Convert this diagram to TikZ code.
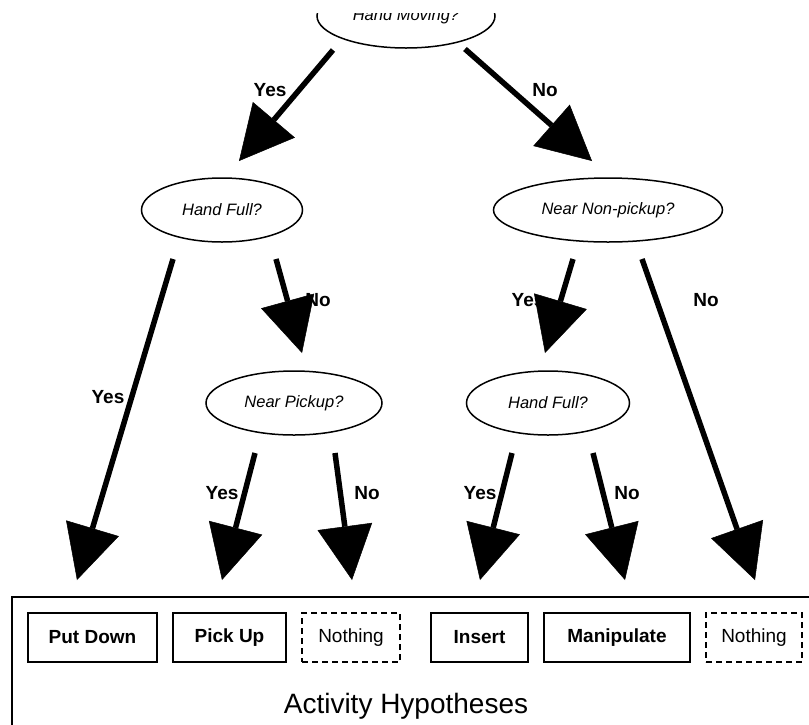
\documentclass[tikz,border=0pt]{standalone}
\usepackage{fontspec}
\setmainfont{Liberation Sans}
\usetikzlibrary{shapes.geometric,arrows.meta}

\tikzset{
	question/.style={draw, ellipse, line width=1.5pt, inner sep=0pt, minimum height=64pt, font=\fontsize{16.5}{18}\selectfont\itshape},
	bigarrow/.style={line width=5.5pt, -{Triangle[length=54pt, width=55pt, line width=0.5pt]}},
	answer/.style={font=\fontsize{19}{21}\selectfont\bfseries},
	activity/.style={draw, line width=1.7pt, inner sep=0pt, minimum height=49pt, font=\fontsize{19}{21}\selectfont\bfseries},
	noactivity/.style={activity, dash pattern=on 6pt off 4pt, font=\fontsize{19}{21}\selectfont}
}

\begin{document}
\begin{tikzpicture}[x=1pt, y=-1pt]
	
	\useasboundingbox (0,0) rectangle (809,724);
	\clip (0,13) rectangle (809,724);
	
	% questions
	\node[question, minimum width=178pt] (moving) at (406,16) {Hand Moving?};
	\node[question, minimum width=161pt] (full) at (222,210) {Hand Full?};
	\node[question, minimum width=229pt] (nonpickup) at (608,210) {Near Non-pickup?};
	\node[question, minimum width=176pt] (pickup) at (294,403) {Near Pickup?};
	\node[question, minimum width=163pt] (fulltwo) at (548,403) {Hand Full?};
	
	% hypotheses
	\draw[line width=1.7pt] (12,597) coordinate (h1) rectangle (840,760) coordinate (h2);
	\node[activity, minimum width=129pt] (putdown) at (92.5,637.5) {Put Down};
	\node[activity, minimum width=113pt] (pickupact) at (229.5,637.5) {Pick Up};
	\node[noactivity, minimum width=98pt] (nothingone) at (351,637.5) {Nothing};
	\node[activity, minimum width=97pt] (insert) at (479.5,637.5) {Insert};
	\node[activity, minimum width=146pt] (manipulate) at (617,637.5) {Manipulate};
	\node[noactivity, minimum width=96pt] (nothingtwo) at (754,637.5) {Nothing};
	\node[font=\fontsize{28}{30}\selectfont] (title) at (406,706) {Activity Hypotheses};
	
	% arrow ends
	\coordinate (s1) at (333,50);   \coordinate (t1) at (239,161);
	\coordinate (s2) at (465,49);   \coordinate (t2) at (592,161);
	\coordinate (s3) at (173,259);  \coordinate (t3) at (77,580);
	\coordinate (s4) at (276,259);  \coordinate (t4) at (302,353);
	\coordinate (s5) at (573,259);  \coordinate (t5) at (545,353);
	\coordinate (s6) at (642,259);  \coordinate (t6) at (755,580);
	\coordinate (s7) at (255,453);  \coordinate (t7) at (222,580);
	\coordinate (s8) at (335,453);  \coordinate (t8) at (352,580);
	\coordinate (s9) at (512,453);  \coordinate (t9) at (480,580);
	\coordinate (s10) at (593,453); \coordinate (t10) at (625,580);
	
	\foreach \i in {1,...,10}
		\draw[bigarrow] (s\i) -- (t\i);
	
	% answers
	\node[answer] (yes1) at (270,90) {Yes};
	\node[answer] (no1) at (545,90) {No};
	\node[answer] (yes2) at (108,397) {Yes};
	\node[answer] (no2) at (318,300) {No};
	\node[answer] (yes3) at (528,300) {Yes};
	\node[answer] (no3) at (706,300) {No};
	\node[answer] (yes4) at (222,493) {Yes};
	\node[answer] (no4) at (367,493) {No};
	\node[answer] (yes5) at (480,493) {Yes};
	\node[answer] (no5) at (627,493) {No};
	
\end{tikzpicture}
\end{document}
